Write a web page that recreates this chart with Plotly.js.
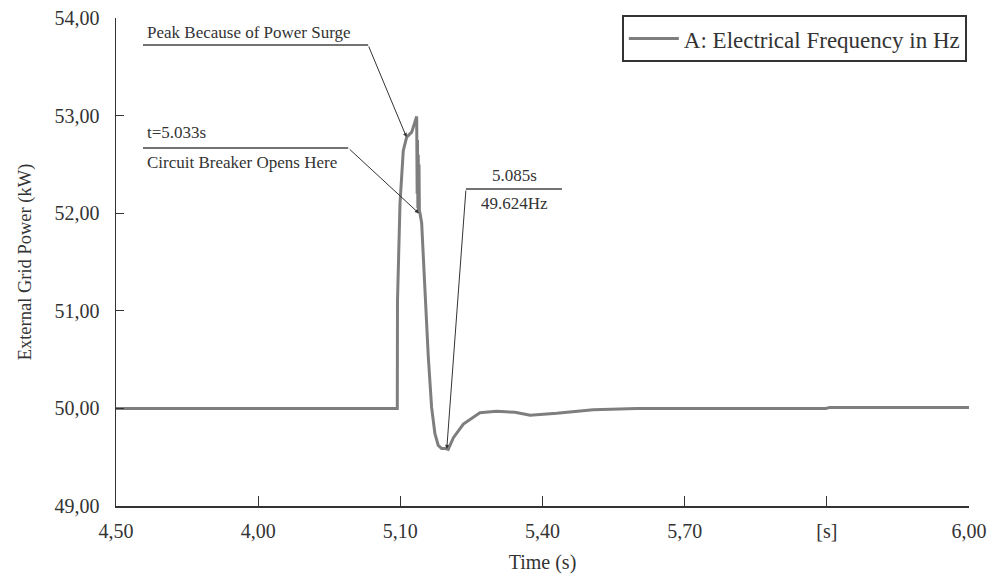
<!DOCTYPE html>
<html>
<head>
<meta charset="utf-8">
<script src="https://cdn.plot.ly/plotly-3.0.1.min.js"></script>
<style>html,body{margin:0;padding:0;background:#fff;}#chart{width:996px;height:580px;}</style>
</head>
<body>
<div id="chart"></div>
<script>
// Time values (s) on the chart's own axis scale
var timeVals = [4.50, 5.000, 5.0936, 5.0940, 5.0993, 5.1062, 5.1134, 5.1240, 5.1310, 5.1345, 5.1355, 5.1362, 5.1370, 5.1378, 5.1386, 5.1394, 5.1402, 5.1415, 5.1450, 5.1520, 5.1590, 5.1660, 5.1730, 5.1800, 5.1870, 5.1940, 5.2010, 5.2120, 5.2330, 5.2680, 5.3030, 5.3420, 5.3740, 5.4300, 5.5070, 5.5990, 5.7000, 5.9980, 6.0060, 6.3000];
// Frequency values (Hz)
var freqVals = [50.00, 50.00, 50.00, 51.10, 52.10, 52.64, 52.78, 52.83, 52.93, 52.99, 52.20, 52.75, 52.05, 52.60, 52.00, 52.50, 52.02, 52.00, 51.90, 51.21, 50.53, 50.01, 49.74, 49.62, 49.59, 49.59, 49.58, 49.70, 49.84, 49.956, 49.97, 49.96, 49.93, 49.95, 49.987, 50.00, 50.00, 50.00, 50.01, 50.01];

var seriesName = "A: Electrical Frequency in Hz";
var xTickVals = [4.5, 4.8, 5.1, 5.4, 5.7, 6.0, 6.3];
var xTickText = ["4,50", "4,00", "5,10", "5,40", "5,70", "[s]", "6,00"];
var yTickVals = [49, 50, 51, 52, 53, 54];
var yTickText = ["49,00", "50,00", "51,00", "52,00", "53,00", "54,00"];

// Annotation anchor points (data coordinates)
var peakPoint = {x: 5.113, y: 52.78};
var breakerPoint = {x: 5.139, y: 52.00};
var minPoint = {x: 5.198, y: 49.585};

var fontFam = "Liberation Serif";
var lineCol = "#444";

var trace = {
  x: timeVals, y: freqVals, type: "scatter", mode: "lines",
  name: seriesName,
  line: {color: "#7e7e7e", width: 3}
};

var shapes = [
  {type: "line", xref: "x", yref: "y", x0: 4.557, x1: 5.032, y0: 53.723, y1: 53.723, line: {color: lineCol, width: 1.5}},
  {type: "line", xref: "x", yref: "y", x0: 4.557, x1: 4.990, y0: 52.668, y1: 52.668, line: {color: lineCol, width: 1.5}},
  {type: "line", xref: "x", yref: "y", x0: 5.2385, x1: 5.441, y0: 52.248, y1: 52.248, line: {color: lineCol, width: 1.5}}
];

var annFont = {family: fontFam, size: 17, color: "#333"};
var annotations = [
  {x: peakPoint.x, y: peakPoint.y, xref: "x", yref: "y", axref: "x", ayref: "y", ax: 5.032, ay: 53.723, text: "", showarrow: true, arrowhead: 2, arrowsize: 0.8, arrowwidth: 1, arrowcolor: "#333"},
  {x: breakerPoint.x, y: breakerPoint.y, xref: "x", yref: "y", axref: "x", ayref: "y", ax: 4.990, ay: 52.668, text: "", showarrow: true, arrowhead: 2, arrowsize: 0.8, arrowwidth: 1, arrowcolor: "#333"},
  {x: minPoint.x, y: minPoint.y, xref: "x", yref: "y", axref: "x", ayref: "y", ax: 5.2385, ay: 52.248, text: "", showarrow: true, arrowhead: 2, arrowsize: 0.8, arrowwidth: 1, arrowcolor: "#333"},
  {x: 4.561, y: 53.85, xref: "x", yref: "y", xanchor: "left", yanchor: "middle", text: "Peak Because of Power Surge", showarrow: false, font: annFont},
  {x: 4.561, y: 52.83, xref: "x", yref: "y", xanchor: "left", yanchor: "middle", text: "t=5.033s", showarrow: false, font: annFont},
  {x: 4.561, y: 52.52, xref: "x", yref: "y", xanchor: "left", yanchor: "middle", text: "Circuit Breaker Opens Here", showarrow: false, font: annFont},
  {x: 5.341, y: 52.39, xref: "x", yref: "y", xanchor: "center", yanchor: "middle", text: "5.085s", showarrow: false, font: annFont},
  {x: 5.341, y: 52.10, xref: "x", yref: "y", xanchor: "center", yanchor: "middle", text: "49.624Hz", showarrow: false, font: annFont}
];

var layout = {
  width: 996, height: 580,
  margin: {l: 116, r: 27, t: 18, b: 74},
  paper_bgcolor: "#fff", plot_bgcolor: "#fff",
  font: {family: fontFam, color: "#333", size: 20},
  showlegend: true,
  legend: {x: 0.593, y: 1.006, xanchor: "left", yanchor: "top", bordercolor: "#333", borderwidth: 2, bgcolor: "#fff", itemwidth: 50, font: {family: fontFam, size: 23, color: "#333"}},
  xaxis: {
    range: [4.5, 6.3], tickvals: xTickVals, ticktext: xTickText,
    ticks: "inside", ticklen: 10, tickcolor: "#333", tickwidth: 1,
    showline: true, linecolor: "#333", linewidth: 1.5, showgrid: false, zeroline: false,
    ticklabelstandoff: 6,
    tickfont: {family: fontFam, size: 20, color: "#333"},
    title: {text: "Time (s)", font: {family: fontFam, size: 20, color: "#333"}, standoff: 14}
  },
  yaxis: {
    range: [49, 54], tickvals: yTickVals, ticktext: yTickText,
    ticks: "inside", ticklen: 8, tickcolor: "#333", tickwidth: 1,
    showline: true, linecolor: "#333", linewidth: 1.5, showgrid: false, zeroline: false,
    ticklabelstandoff: 11,
    tickfont: {family: fontFam, size: 20, color: "#333"},
    title: {text: "External Grid Power (kW)", font: {family: fontFam, size: 18.5, color: "#333"}, standoff: 18}
  },
  shapes: shapes,
  annotations: annotations
};

Plotly.newPlot("chart", [trace], layout, {displayModeBar: false, staticPlot: true});
</script>
</body>
</html>
